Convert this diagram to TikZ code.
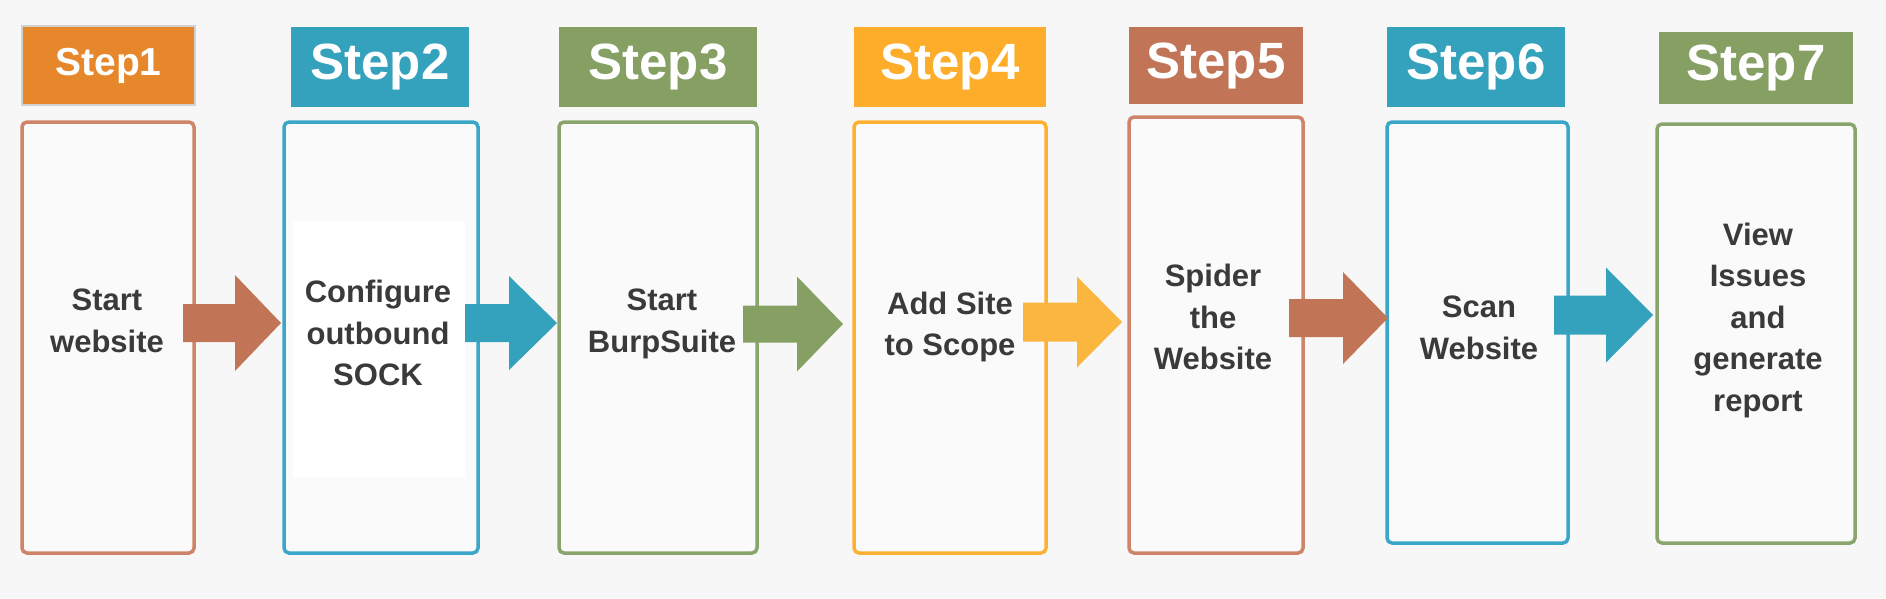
\documentclass[tikz,border=0pt]{standalone}
\usepackage{fontspec}
\setmainfont{Liberation Sans}
\definecolor{bgc}{HTML}{F7F7F7}
\definecolor{boxfill}{HTML}{FAFAFA}
\definecolor{txtc}{HTML}{3A3A3A}
\definecolor{hOrange}{HTML}{E6872B}
\definecolor{hTeal}{HTML}{34A1BD}
\definecolor{hGreen}{HTML}{86A064}
\definecolor{hAmber}{HTML}{FEAD2B}
\definecolor{hTerra}{HTML}{C17556}
\definecolor{bTerra}{HTML}{CD8468}
\definecolor{bTeal}{HTML}{3AA7C8}
\definecolor{bGreen}{HTML}{8AA56B}
\definecolor{bAmber}{HTML}{FDB133}
\definecolor{aAmber}{HTML}{FBB640}
\definecolor{hGray}{HTML}{D2D2D2}
\newcommand{\blockarrow}[7]{%
  \fill[#1] ({#2},{#5-#6}) -- ({#3},{#5-#6}) -- ({#3},{#5-#7}) -- ({#4},{#5})
    -- ({#3},{#5+#7}) -- ({#3},{#5+#6}) -- ({#2},{#5+#6}) -- cycle;}
\begin{document}
\begin{tikzpicture}[x=1pt,y=-1pt,
  header/.style={anchor=north west, inner sep=0pt, outer sep=0pt, text=white,
    font=\bfseries\fontsize{51}{51}\selectfont},
  stepbox/.style={anchor=north west, fill=boxfill, line width=3.5pt,
    rounded corners=5pt, inner sep=0pt, outer sep=0pt},
  label/.style={align=center, text=txtc, inner sep=0pt,
    font=\bfseries\fontsize{31}{41.5}\selectfont}]
\path[fill=bgc] (0,0) rectangle (1886,598);
\useasboundingbox (0,0) rectangle (1886,598);
% headers
\node[header, fill=hOrange, draw=hGray, line width=2pt, minimum width=173pt, minimum height=79pt,
  font=\bfseries\fontsize{39}{39}\selectfont] (h1) at (22,26) {Step1};
\node[header, fill=hTeal, minimum width=178pt, minimum height=80pt] (h2) at (291,27) {Step2};
\node[header, fill=hGreen, minimum width=198pt, minimum height=80pt] (h3) at (559,27) {Step3};
\node[header, fill=hAmber, minimum width=192pt, minimum height=80pt] (h4) at (854,27) {Step4};
\node[header, fill=hTerra, minimum width=174pt, minimum height=77pt] (h5) at (1129,27) {Step5};
\node[header, fill=hTeal, minimum width=178pt, minimum height=80pt] (h6) at (1387,27) {Step6};
\node[header, fill=hGreen, minimum width=194pt, minimum height=72pt] (h7) at (1659,32) {Step7};
% boxes
\node[stepbox, draw=bTerra, minimum width=172pt, minimum height=431pt] (b1) at (22,122) {};
\node[stepbox, draw=bTeal, minimum width=194pt, minimum height=431pt] (b2) at (284,122) {};
\node[anchor=north west, fill=white, inner sep=0pt, minimum width=172pt, minimum height=256pt] (w2) at (293,222) {};
\node[stepbox, draw=bGreen, minimum width=198pt, minimum height=431pt] (b3) at (559,122) {};
\node[stepbox, draw=bAmber, minimum width=192pt, minimum height=431pt] (b4) at (854,122) {};
\node[stepbox, draw=bTerra, minimum width=174pt, minimum height=436pt] (b5) at (1129,117) {};
\node[stepbox, draw=bTeal, minimum width=181pt, minimum height=421pt] (b6) at (1387,122) {};
\node[stepbox, draw=bGreen, minimum width=198pt, minimum height=419pt] (b7) at (1657,124) {};
% arrows
\blockarrow{hTerra}{183}{235}{281}{323}{19}{48}
\blockarrow{hTeal}{465}{509}{557}{323}{19}{47}
\blockarrow{hGreen}{743}{797}{843}{324}{18.5}{47.5}
\blockarrow{aAmber}{1023}{1077}{1122}{322}{19.5}{45.5}
\blockarrow{hTerra}{1289}{1343}{1388}{318}{19}{46}
\blockarrow{hTeal}{1554}{1606}{1653}{315}{19.5}{47.5}
% texts
\node[label] (t1) at (107,321) {Start\\website};
\node[label] (t2) at (378,333) {Configure\\outbound\\SOCK};
\node[label] (t3) at (662,324) {Start\\BurpSuite};
\node[label] (t4) at (950,327) {Add Site\\to Scope};
\node[label] (t5) at (1213,317) {Spider\\the\\Website};
\node[label] (t6) at (1479,328) {Scan\\Website};
\node[label] (t7) at (1758,320) {View\\Issues\\and\\generate\\report};
\end{tikzpicture}
\end{document}
